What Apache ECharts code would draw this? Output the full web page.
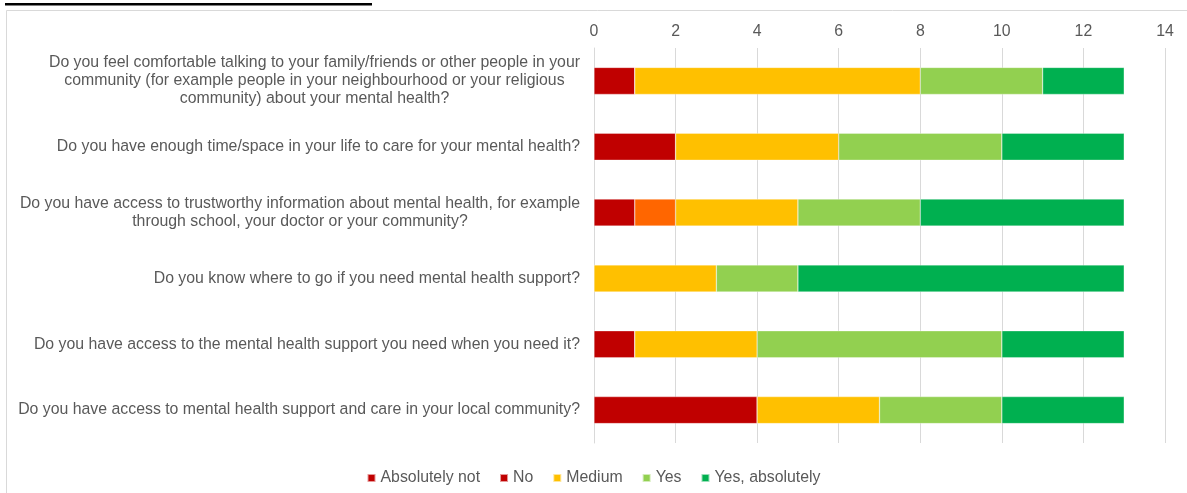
<!DOCTYPE html>
<html>
<head>
<meta charset="utf-8">
<script src="https://cdn.jsdelivr.net/npm/echarts@6/dist/echarts.min.js"></script>
<style>
  html, body { margin: 0; padding: 0; background: #fff; }
  #chart { width: 1187px; height: 493px; }
</style>
</head>
<body>
<div id="chart"></div>
<script>
// Survey questions (line breaks mark how each label wraps)
const questions = [
  'Do you feel comfortable talking to your family/friends or other people in your\ncommunity (for example people in your neighbourhood or your religious\ncommunity) about your mental health?',
  'Do you have enough time/space in your life to care for your mental health?',
  'Do you have access to trustworthy information about mental health, for example\nthrough school, your doctor or your community?',
  'Do you know where to go if you need mental health support?',
  'Do you have access to the mental health support you need when you need it?',
  'Do you have access to mental health support and care in your local community?'
];

// Number of responses per answer, one value per question
const absolutelyNot = [1, 2, 1, 0, 1, 4];
const no            = [0, 0, 1, 0, 0, 0];
const medium        = [7, 4, 3, 3, 3, 3];
const yes           = [3, 4, 3, 2, 6, 3];
const yesAbsolutely = [2, 3, 5, 8, 3, 3];

const xTicks = [0, 2, 4, 6, 8, 10, 12, 14];

const FONT = '"Liberation Sans", Arial, sans-serif';
const TEXT = '#595959';
const SIZE = 15.85;

const chart = echarts.init(document.getElementById('chart'), null, { renderer: 'canvas' });

function seg(name, color, values, itemColor) {
  return {
    name: name,
    type: 'bar',
    stack: 'total',
    barCategoryGap: '59%',
    itemStyle: { color: color, borderColor: 'rgba(255,255,255,0.6)', borderWidth: 0.5 },
    emphasis: { disabled: true },
    data: values.map(v => itemColor ? { value: v, itemStyle: { color: itemColor } } : v)
  };
}

chart.setOption({
  animation: false,
  backgroundColor: '#fff',
  textStyle: { fontFamily: FONT },
  graphic: [
    { type: 'rect', shape: { x: 6.5, y: 10.5, width: 1300, height: 600 },
      style: { fill: 'none', stroke: '#d9d9d9', lineWidth: 1 }, silent: true },
    { type: 'text', left: 5, top: -25,
      style: { text: 'Mental health support and care', font: '26px ' + FONT, fill: '#000' }, silent: true },
    { type: 'rect', shape: { x: 5, y: 3, width: 367, height: 2.6 }, style: { fill: '#000' }, silent: true }
  ],
  grid: { left: 594, right: 22, top: 48, bottom: 50 },
  legend: {
    bottom: 2,
    left: 'center',
    itemWidth: 8,
    itemHeight: 8,
    itemGap: 19,
    icon: 'rect',
    textStyle: { color: TEXT, fontSize: SIZE, fontFamily: FONT },
    data: ['Absolutely not', 'No', 'Medium', 'Yes', 'Yes, absolutely']
  },
  xAxis: {
    type: 'value',
    position: 'top',
    min: xTicks[0],
    max: xTicks[xTicks.length - 1],
    interval: 2,
    axisLine: { show: false },
    axisTick: { show: false },
    axisLabel: { color: TEXT, fontSize: SIZE, fontFamily: FONT, margin: 8 },
    splitLine: { show: true, lineStyle: { color: '#d9d9d9', width: 1 } }
  },
  yAxis: {
    type: 'category',
    inverse: true,
    data: questions,
    axisLine: { show: true, lineStyle: { color: '#d9d9d9', width: 1 } },
    axisTick: { show: false },
    axisLabel: {
      margin: 14,
      align: 'right',
      formatter: v => v.split('\n').map(l => '{c|' + l + '}').join('\n'),
      rich: {
        c: { color: TEXT, fontSize: SIZE, lineHeight: 18, fontFamily: FONT, align: 'center' }
      }
    }
  },
  series: [
    seg('Absolutely not', '#C00000', absolutelyNot),
    seg('No', '#C00000', no, '#FF6600'),
    seg('Medium', '#FFC000', medium),
    seg('Yes', '#92D050', yes),
    seg('Yes, absolutely', '#00B050', yesAbsolutely)
  ]
});
</script>
</body>
</html>
